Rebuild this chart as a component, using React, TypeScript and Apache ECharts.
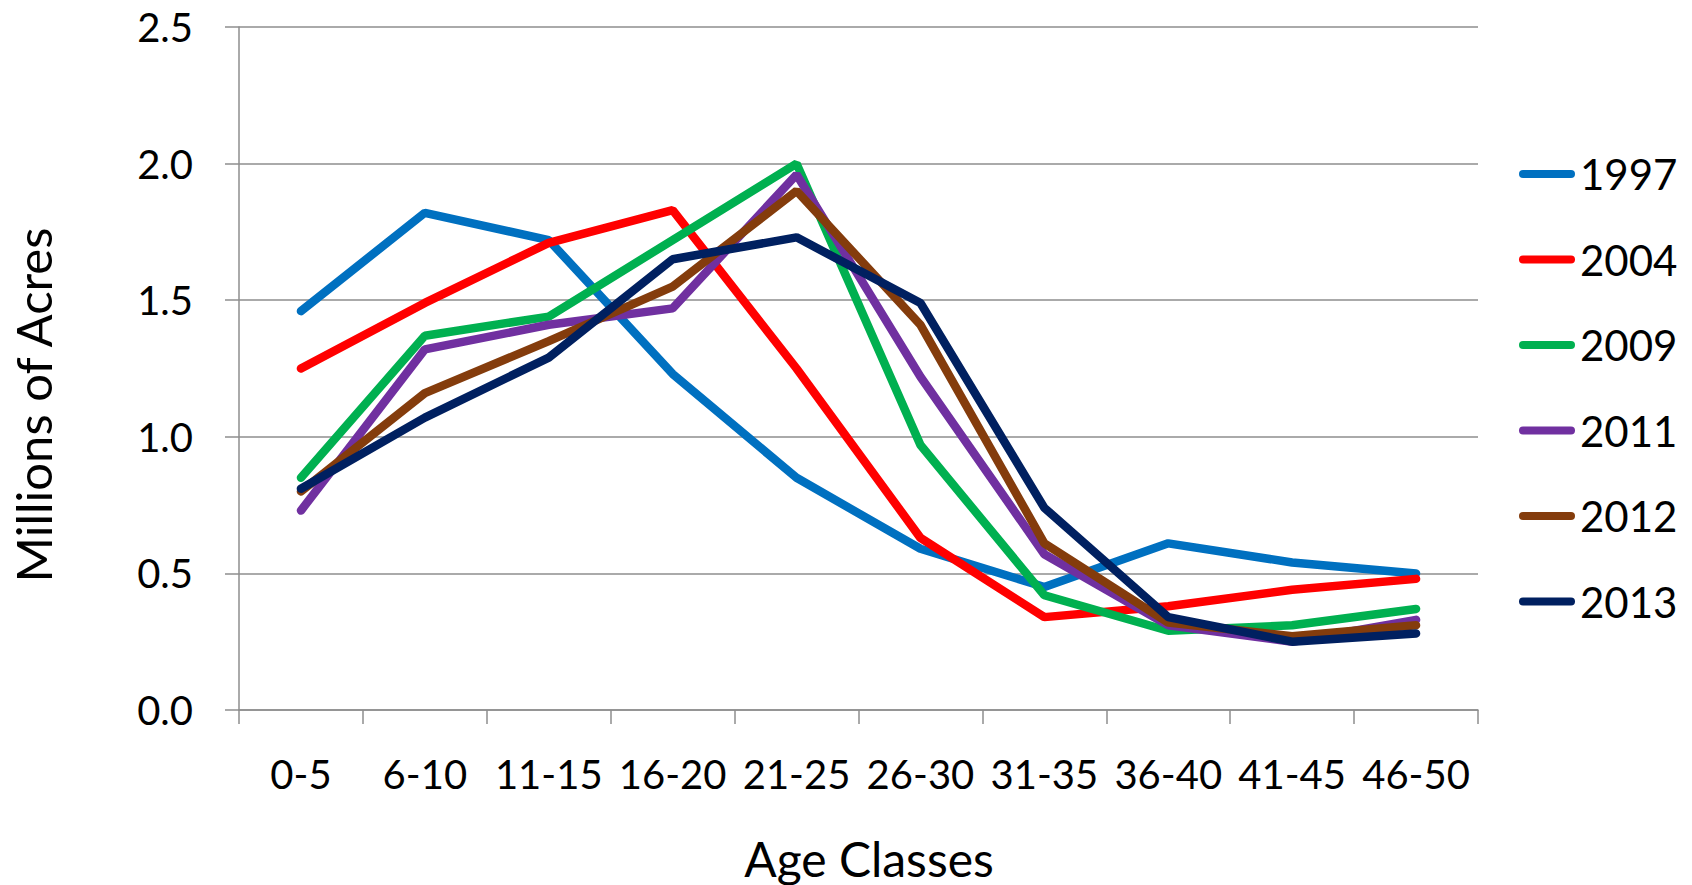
import React, { useEffect, useRef } from "react";
import * as echarts from "echarts";

const categories = ["0-5", "6-10", "11-15", "16-20", "21-25", "26-30", "31-35", "36-40", "41-45", "46-50"];
const years = ["1997", "2004", "2009", "2011", "2012", "2013"];
const s1997 = [1.46, 1.82, 1.72, 1.23, 0.85, 0.59, 0.45, 0.61, 0.54, 0.5];
const s2004 = [1.25, 1.49, 1.71, 1.83, 1.25, 0.63, 0.34, 0.38, 0.44, 0.48];
const s2009 = [0.85, 1.37, 1.44, 1.72, 2.0, 0.97, 0.42, 0.29, 0.31, 0.37];
const s2011 = [0.73, 1.32, 1.41, 1.47, 1.96, 1.22, 0.57, 0.31, 0.25, 0.33];
const s2012 = [0.8, 1.16, 1.35, 1.55, 1.9, 1.41, 0.61, 0.32, 0.27, 0.31];
const s2013 = [0.81, 1.07, 1.29, 1.65, 1.73, 1.49, 0.74, 0.34, 0.25, 0.28];
const seriesValues = [s1997, s2004, s2009, s2011, s2012, s2013];
const colors = ["#0070C0", "#FF0000", "#00B050", "#7030A0", "#843C0C", "#002060"];
const xTitle = "Age Classes";
const yTitle = "Millions of Acres";

const FONT = "Lato";
const AXIS_COLOR = "#8e8e8e";
const PILL = "path://M4,0 L52,0 A4,4 0 0 1 52,8 L4,8 A4,4 0 0 1 4,0 Z";

export default function App() {
  const ref = useRef<HTMLDivElement>(null);
  useEffect(() => {
    document.body.style.margin = "0";
    if (!ref.current) return;
    const chart = echarts.init(ref.current, undefined, { renderer: "svg" });
    chart.setOption({
      animation: false,
      backgroundColor: "#ffffff",
      textStyle: { fontFamily: FONT },
      grid: { left: 239, right: 214, top: 27, bottom: 175 },
      legend: {
        orient: "vertical",
        left: 1514,
        top: 148,
        itemWidth: 56,
        itemHeight: 8,
        itemGap: 43.5,
        icon: PILL,
        data: years,
        textStyle: { fontSize: 42, lineHeight: 42, color: "#000", fontFamily: FONT },
      },
      xAxis: {
        type: "category",
        data: categories,
        boundaryGap: true,
        axisLine: { show: true, lineStyle: { color: AXIS_COLOR, width: 1.5 } },
        axisTick: { show: true, length: 14, interval: 0, lineStyle: { color: AXIS_COLOR, width: 1.5 } },
        axisLabel: { color: "#000", fontSize: 40, lineHeight: 40, margin: 44, interval: 0, fontFamily: FONT },
        splitLine: { show: false },
      },
      yAxis: {
        type: "value",
        min: 0,
        max: 2.5,
        interval: 0.5,
        axisLine: { show: true, lineStyle: { color: AXIS_COLOR, width: 1.5 } },
        axisTick: { show: true, length: 14, lineStyle: { color: AXIS_COLOR, width: 1.5 } },
        axisLabel: {
          color: "#000",
          fontSize: 40,
          margin: 46,
          fontFamily: FONT,
          formatter: (v: number) => v.toFixed(1),
        },
        splitLine: { show: true, lineStyle: { color: AXIS_COLOR, width: 1.5 } },
      },
      graphic: [
        {
          type: "text",
          x: 869,
          y: 858,
          style: {
            text: xTitle,
            fontSize: 48,
            fontFamily: FONT,
            fill: "#000",
            align: "center",
            verticalAlign: "middle",
          },
        },
        {
          type: "text",
          x: 33,
          y: 405,
          rotation: Math.PI / 2,
          style: {
            text: yTitle,
            fontSize: 49,
            fontFamily: FONT,
            fill: "#000",
            align: "center",
            verticalAlign: "middle",
          },
        },
      ],
      series: years.map((y, i) => ({
        name: y,
        type: "line",
        data: seriesValues[i],
        symbol: "none",
        color: colors[i],
        lineStyle: { width: 8.5, color: colors[i], cap: "round" },
        emphasis: { disabled: true },
      })),
    });
    return () => chart.dispose();
  }, []);
  return <div ref={ref} style={{ width: 1692, height: 885 }} />;
}
